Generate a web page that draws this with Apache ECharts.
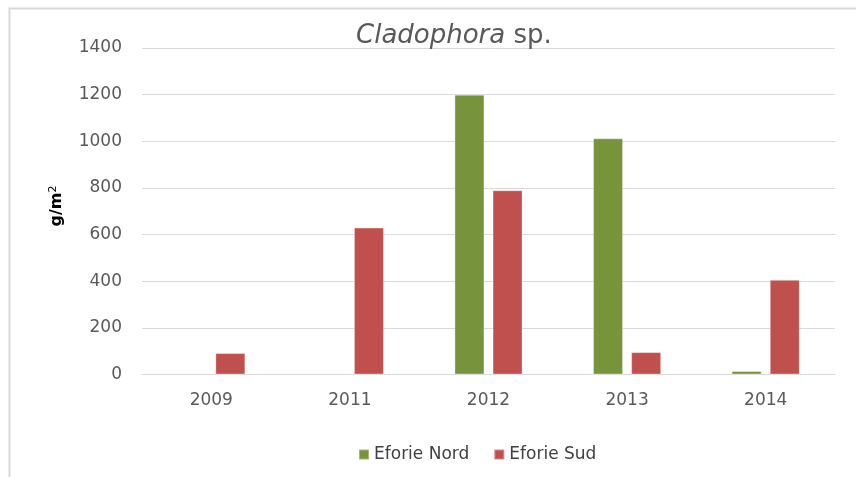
<!DOCTYPE html>
<html>
<head>
<meta charset="utf-8">
<script src="https://cdn.jsdelivr.net/npm/echarts@6/dist/echarts.min.js"></script>
<style>html,body{margin:0;padding:0;background:#fff;}#c{width:856px;height:477px;}</style>
</head>
<body>
<div id="c"></div>
<script>
var categories = ['2009', '2011', '2012', '2013', '2014'];
var eforieNord = [null, null, 1200, 1013, 15];
var eforieSud = [92, 630, 790, 96, 406];
var yTicks = [0, 200, 400, 600, 800, 1000, 1200, 1400];

var chart = echarts.init(document.getElementById('c'));
var font = 'DejaVu Sans';
chart.setOption({
  animation: false,
  backgroundColor: '#fff',
  title: {
    text: '{i|Cladophora}{n| sp.}',
    left: 351,
    top: 18,
    textStyle: {
      fontWeight: 'normal',
      rich: {
        i: {fontFamily: font, fontStyle: 'italic', fontWeight: 'normal', fontSize: 26, color: '#595959'},
        n: {fontFamily: font, fontWeight: 'normal', fontSize: 26, color: '#595959'}
      }
    }
  },
  graphic: [
    {type: 'polyline', shape: {points: [[9.5, 480], [9.5, 8.5], [860, 8.5]]}, style: {stroke: '#d9d9d9', lineWidth: 2, fill: null}, silent: true},
    {type: 'text', x: 57, y: 206, rotation: Math.PI / 2,
      style: {text: 'g/m{s|2}', fontFamily: font, fontWeight: 'bold', fontSize: 16, fill: '#000', align: 'center', verticalAlign: 'middle',
        rich: {s: {fontFamily: font, fontWeight: 'normal', fontSize: 11, fill: '#000', verticalAlign: 'top', padding: [0, 0, 8, 0]}}}}
  ],
  legend: {
    data: ['Eforie Nord', 'Eforie Sud'],
    left: 353,
    top: 441,
    icon: 'rect',
    itemWidth: 10,
    itemHeight: 10,
    itemGap: 24,
    textStyle: {fontFamily: font, fontSize: 17, color: '#404040'}
  },
  grid: {left: 142, right: 21, top: 48, bottom: 102.5, containLabel: false},
  xAxis: {
    type: 'category',
    data: categories,
    axisLine: {lineStyle: {color: '#d9d9d9', width: 1}},
    axisTick: {show: false},
    axisLabel: {fontFamily: font, fontSize: 17, color: '#595959', margin: 18}
  },
  yAxis: {
    type: 'value',
    min: yTicks[0],
    max: yTicks[yTicks.length - 1],
    interval: 200,
    axisLine: {show: false},
    axisTick: {show: false},
    axisLabel: {fontFamily: font, fontSize: 17, color: '#595959', margin: 20, formatter: function (v) { return String(v); }},
    splitLine: {lineStyle: {color: '#d9d9d9', width: 1}}
  },
  series: [
    {name: 'Eforie Nord', type: 'bar', data: eforieNord, barWidth: 30, barGap: '27%',
      itemStyle: {color: '#77933C', borderColor: 'rgba(255,255,255,0.35)', borderWidth: 1}},
    {name: 'Eforie Sud', type: 'bar', data: eforieSud, barWidth: 30,
      itemStyle: {color: '#C0504D', borderColor: 'rgba(255,255,255,0.35)', borderWidth: 1}}
  ]
});
</script>
</body>
</html>
